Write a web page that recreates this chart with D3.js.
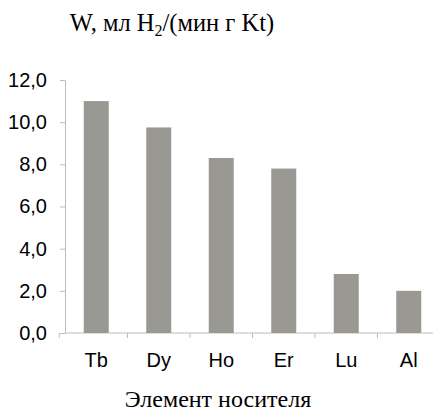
<!DOCTYPE html>
<html>
<head>
  <meta charset="utf-8" />
  <title>W</title>
  <style type="text/css">
    html, body { margin: 0; background: #fff; }
    .axis path, .axis line { stroke: #bdbdbd; }
    .serif { font-family: "Liberation Serif", "DejaVu Serif", serif; }
    .sans { font-family: "Liberation Sans", Arial, sans-serif; }
  </style>
  <script src="https://d3js.org/d3.v7.min.js"></script>
</head>
<body>
<div id="container"></div>
<script>
var categories = ["Tb", "Dy", "Ho", "Er", "Lu", "Al"];
var values = [11.0, 9.75, 8.3, 7.8, 2.8, 2.0];
var yTicks = [0, 2, 4, 6, 8, 10, 12];

var width = 433, height = 417;
var plotLeft = 65, plotRight = 440, plotTop = 80, plotBottom = 333;

var svg = d3.select("#container").append("svg")
    .attr("width", width)
    .attr("height", height);

var x = d3.scaleBand()
    .domain(categories)
    .range([plotLeft, plotRight])
    .paddingInner(0.6)
    .paddingOuter(0.3);

var y = d3.scaleLinear()
    .domain([0, 12])
    .range([plotBottom, plotTop]);

var fmt = function(d) { return d3.format(".1f")(d).replace(".", ","); };

// y axis
var yAxis = svg.append("g")
    .attr("class", "axis")
    .attr("transform", "translate(" + plotLeft + ",0)")
    .call(d3.axisLeft(y).tickValues(yTicks).tickFormat(fmt).tickSize(5).tickSizeOuter(0).tickPadding(13));
yAxis.selectAll("text")
    .attr("class", "sans")
    .attr("fill", "#000")
    .style("font-size", "20px");

// x axis line + ticks between categories
var xg = svg.append("g").attr("class", "axis");
xg.append("line")
    .attr("x1", plotLeft).attr("x2", width)
    .attr("y1", y(0)).attr("y2", y(0));
var step = x.step();
xg.selectAll(".bt")
  .data(categories)
  .enter().append("line")
    .attr("class", "bt")
    .attr("x1", function(d) { return x(d) - step * x.paddingInner() / 2 + (d == categories[0] ? -step * 0.1 + 0.5 : 0); })
    .attr("x2", function(d) { return x(d) - step * x.paddingInner() / 2 + (d == categories[0] ? -step * 0.1 + 0.5 : 0); })
    .attr("y1", y(0)).attr("y2", y(0) + 5);

svg.append("g")
    .attr("transform", "translate(0," + y(0) + ")")
    .call(d3.axisBottom(x).tickSize(0).tickPadding(20))
    .call(function(g) { g.select(".domain").remove(); })
    .selectAll("text")
    .attr("class", "sans")
    .attr("fill", "#000")
    .style("font-size", "20px");

// bars
svg.selectAll(".bar")
  .data(values)
  .enter().append("rect")
    .attr("class", "bar")
    .attr("x", function(d, i) { return x(categories[i]); })
    .attr("width", x.bandwidth())
    .attr("y", function(d) { return y(d); })
    .attr("height", function(d) { return y(0) - y(d); })
    .attr("fill", "#999893");

// titles
var title = svg.append("text")
    .attr("class", "serif")
    .attr("x", 172).attr("y", 31)
    .attr("text-anchor", "middle")
    .style("font-size", "24.5px");
title.append("tspan").text("W, мл H");
title.append("tspan").attr("dy", 5).style("font-size", "16px").text("2");
title.append("tspan").attr("dy", -5).text("/(мин г Kt)");

svg.append("text")
    .attr("class", "serif")
    .attr("x", 218).attr("y", 407)
    .attr("text-anchor", "middle")
    .style("font-size", "24px")
    .text("Элемент носителя");
</script>
</body>
</html>
